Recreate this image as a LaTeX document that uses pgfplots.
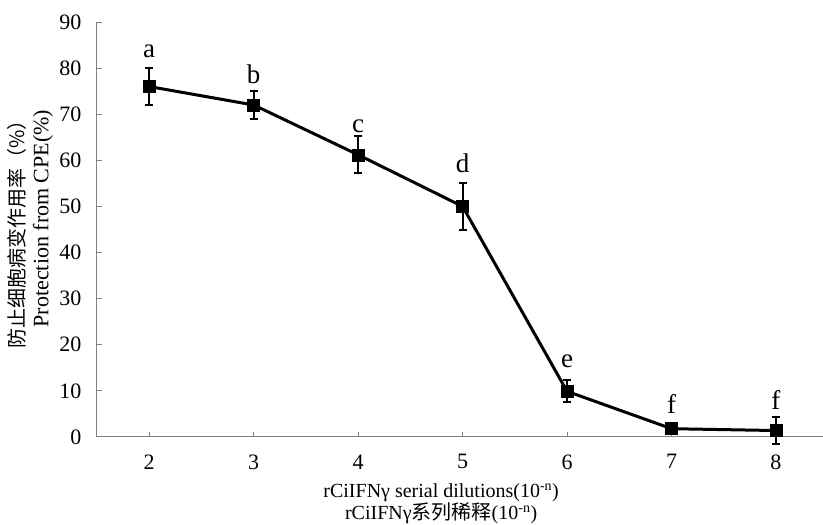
\documentclass[border=0pt]{standalone}
\usepackage{fontspec}
\setmainfont{Liberation Serif}
\newfontfamily\cjk{Noto Sans CJK SC}
\usepackage{pgfplots}
\pgfplotsset{compat=1.18}
\usepackage{pgfplotstable}
\pgfplotstableread{
x y err
2 76.0 4.0
3 72.0 3.0
4 61.2 4.0
5 50.0 5.0
6 9.9 2.4
7 1.8 0.6
8 1.4 3.0
}\datatable
\pgfplotstableread{
x y label
2 82.2 a
3 76.6 b
4 66.0 c
5 57.3 d
6 15.0 e
7 5.2 f
8 5.9 f
}\labeltable
\begin{document}
\begin{tikzpicture}
\useasboundingbox (0,0) rectangle (823pt,525pt);
\begin{axis}[
  at={(97pt,88pt)}, anchor=south west,
  scale only axis, width=726pt, height=415pt,
  xmin=1.5, xmax=8.45, ymin=0, ymax=90,
  axis x line=bottom, axis y line=left,
  axis line style={gray, line width=1pt, -},
  xtick={2,3,4,5,6,7,8}, ytick={0,10,...,90},
  tick style={gray, line width=1pt},
  major tick length=5pt,
  tick align=inside,
  /pgf/number format/assume math mode=true,
  tick label style={font=\fontsize{22}{26}\selectfont, black},
  xticklabel style={yshift=-14pt},
  yticklabel style={xshift=-12pt},
  xlabel={rCiIFNγ serial dilutions(10\textsuperscript{-n})\\rCiIFNγ{\cjk 系列稀释}(10\textsuperscript{-n})},
  xlabel style={align=center, font=\fontsize{20}{22}\selectfont, at={(axis description cs:0.474,-0.161)}, anchor=center},
  ylabel={{\cjk\fontsize{20}{24}\selectfont 防止细胞病变作用率（\%）}\\\hspace*{22pt}Protection from CPE(\%)},
  ylabel style={align=center, font=\fontsize{22}{24}\selectfont, at={(axis description cs:-0.092,0.5)}, anchor=center},
  clip=false,
]
\addplot[black, line width=3pt, mark=square*, mark size=6pt, mark options={solid, fill=black, line width=0.5pt},
  error bars/.cd, y dir=both, y explicit,
  error bar style={black, line width=2pt},
  error mark options={rotate=90, mark size=4pt, line width=2pt, black}]
  table[x=x, y=y, y error=err] {\datatable};
\addplot[only marks, mark=none, nodes near coords, point meta=explicit symbolic,
  nodes near coords style={anchor=base, font=\fontsize{27}{29}\selectfont, black, inner sep=0pt}]
  table[x=x, y=y, meta=label] {\labeltable};
\end{axis}
\end{tikzpicture}
\end{document}
